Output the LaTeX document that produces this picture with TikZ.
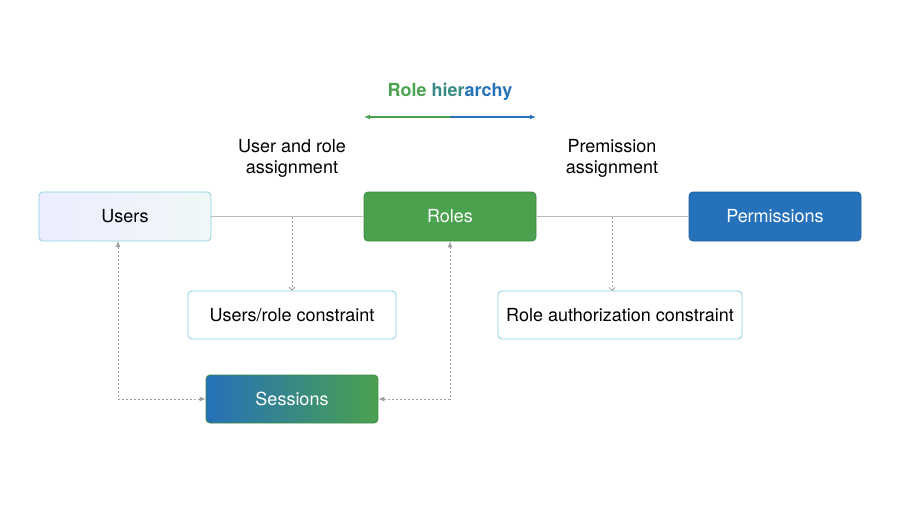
\documentclass[tikz,border=0pt]{standalone}
\usepackage{fontspec}
\setmainfont{TeX Gyre Heros}
\usetikzlibrary{arrows.meta}
\begin{document}
\definecolor{gr}{HTML}{4AA14E}
\definecolor{bl}{HTML}{2571BA}
\definecolor{ln}{HTML}{8CCFE3}
\definecolor{gy}{HTML}{A0A0A0}
\begin{tikzpicture}[x=1pt,y=-1pt,>={Latex[length=6pt,width=5pt]},
 box/.style={rounded corners=4pt,minimum width=172pt,minimum height=49pt,font=\fontsize{18}{21}\selectfont,inner sep=0pt,line width=0.8pt},
 dsh/.style={gy,dash pattern=on 2pt off 2pt,line width=0.8pt},
 lbl/.style={font=\fontsize{18}{21}\selectfont,align=center}]
\useasboundingbox (0,0) rectangle (900,506);
\node[box,left color=blue!7,right color=teal!6,draw=ln,text=black] (users) at (125,216.5) {Users};
\node[box,fill=gr,draw=gr!85!black,text=white] (roles) at (450,216.5) {Roles};
\node[box,fill=bl,draw=bl!85!black,text=white] (perm) at (775,216.5) {Permissions};
\node[box,minimum width=208pt,minimum height=48pt,fill=white,draw=ln] (urc) at (292,315) {Users/role constraint};
\node[box,minimum width=244pt,minimum height=48pt,fill=white,draw=ln] (rac) at (620,315) {Role authorization constraint};
\node[box,left color=bl,right color=gr,draw=gr!85!black,text=white,minimum height=48pt] (sess) at (292,399) {Sessions};
\node[lbl] (l1) at (292,158) {User and role\\assignment};
\node[lbl] (l2) at (612,158) {Premission\\assignment};
\node[font=\fontsize{18}{21}\selectfont\bfseries] (rh) at (450,92) {\textcolor{gr}{Role} \textcolor{gr!50!bl}{hier}\textcolor{bl}{archy}};
\coordinate (ha) at (364,117); \coordinate (hb) at (536,117);
\coordinate (hm) at (450,117);
\draw[gr,line width=1.2pt,<-] (ha) -- (hm);
\draw[bl,line width=1.2pt,->] (hm) -- (hb);
\draw[gy!70,line width=1.2pt] (users.east) -- (roles.west);
\draw[gy!70,line width=1.2pt] (roles.east) -- (perm.west);
\coordinate (c1) at (292,216.5); \coordinate (c2) at (612,216.5);
\coordinate (c3) at (612,291);
\draw[dsh,-{Straight Barb[length=3pt,width=6pt]}] (c1) -- (urc.north);
\draw[dsh,-{Straight Barb[length=3pt,width=6pt]}] (c2) -- (c3);
\coordinate (k1) at (118,399); \coordinate (k2) at (450,399);
\coordinate (u1) at (118,241);
\draw[dsh,<->] (u1) -- (k1) -- (sess.west);
\draw[dsh,<->] (roles.south) -- (k2) -- (sess.east);
\end{tikzpicture}
\end{document}
